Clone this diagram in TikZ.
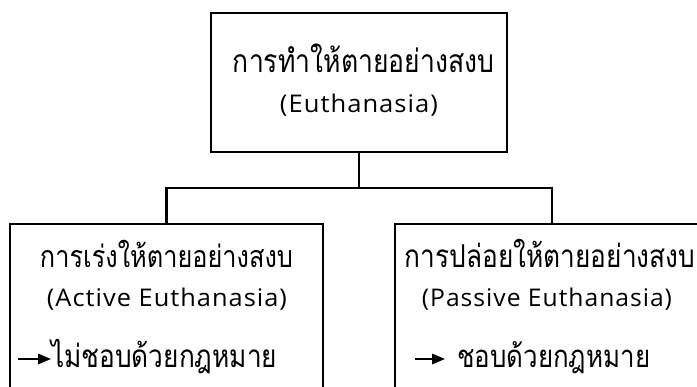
\documentclass[tikz,border=0pt]{standalone}
\usepackage{fontspec}
\usepackage{graphicx}
\setmainfont[Script=Thai]{Loma}
\newfontfamily\latinfont[LetterSpace=4]{Open Sans}
\newcommand\thw[2]{\scalebox{1}[1.2]{\resizebox{#1}{!}{\fontsize{26}{30}\selectfont #2}}}
\newcommand\enw[2]{\resizebox{#1}{18.5pt}{\latinfont\fontsize{22}{26}\selectfont #2}}
\usetikzlibrary{arrows.meta}
\begin{document}
\begin{tikzpicture}[x=1pt,y=-1pt,
  box/.style={draw,line width=2.2pt,rectangle,inner sep=0pt},
  link/.style={line width=2.2pt,line join=miter},
  th/.style={anchor=base,inner sep=0pt},
  en/.style={anchor=base,inner sep=0pt},
  pointer/.style={line width=1.7pt,-{Triangle[length=13pt,width=10.5pt]}}]
\useasboundingbox (0,0) rectangle (697,387);
\begin{scope}
\clip (0,0) rectangle (697,387);
\node[box, minimum width=296pt, minimum height=139pt] (top) at (359,82.5) {};
\node[box, minimum width=313pt, minimum height=206pt] (active) at (166.5,327) {};
\node[box, minimum width=314pt, minimum height=206pt] (passive) at (552,327) {};
\coordinate (bus) at (359,188);
\draw[link] (top.south) -- (bus);
\draw[link] (active.north) |- (bus) -| (passive.north);

\node[th] (t1) at (363.5,73) {\thw{261pt}{การทำให้ตายอย่างสงบ}};
\node[en] (t2) at (359,113) {\enw{158pt}{(Euthanasia)}};

\node[th] (a1) at (166.5,268) {\thw{253pt}{การเร่งให้ตายอย่างสงบ}};
\node[en] (a2) at (167,307) {\enw{240pt}{(Active Euthanasia)}};
\node[th,anchor=base west] (a3) at (51,368) {\thw{226pt}{ไม่ชอบด้วยกฎหมาย}};
\coordinate (pa) at (18,359);
\draw[pointer] (pa) -- (pa -| a3.west);

\node[th] (p1) at (550,268) {\thw{290pt}{การปล่อยให้ตายอย่างสงบ}};
\node[en] (p2) at (547,307) {\enw{250pt}{(Passive Euthanasia)}};
\node[th,anchor=base west] (p3) at (457,368) {\thw{193pt}{ชอบด้วยกฎหมาย}};
\coordinate (pp) at (415,359);
\draw[pointer,shorten >=12pt] (pp) -- (pp -| p3.west);
\end{scope}
\end{tikzpicture}
\end{document}
